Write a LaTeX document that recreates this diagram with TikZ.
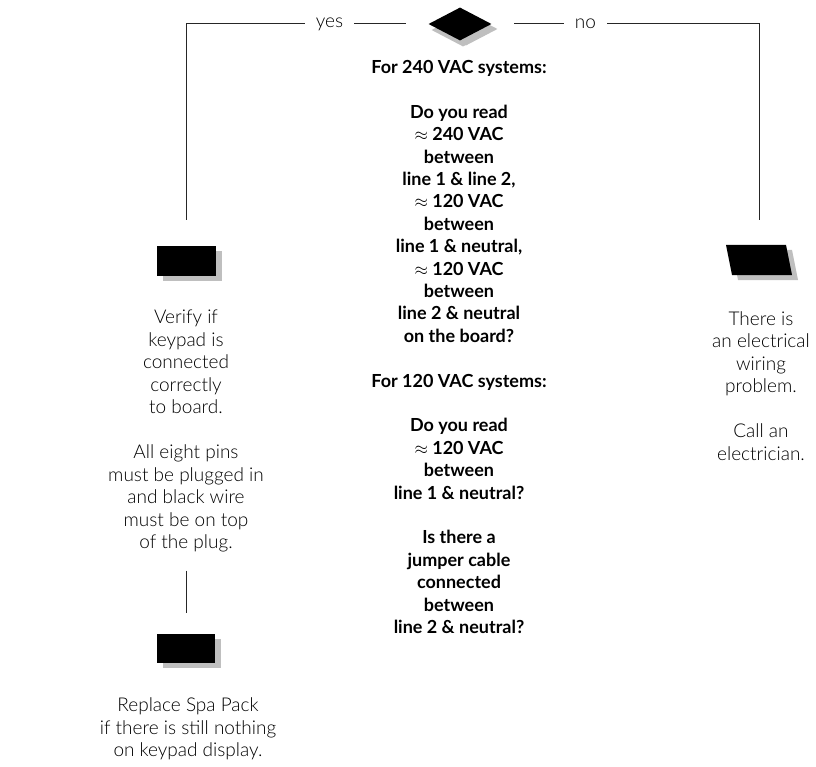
\documentclass[tikz,border=0pt]{standalone}
\usepackage{fontspec}
\setmainfont{Lato}
\newfontfamily\thinfont{Lato Light}
\usetikzlibrary{shapes.geometric,shadows}
\begin{document}
\begin{tikzpicture}[x=1pt,y=-1pt]
    \tikzset{blob/.style = {fill=black,inner sep=0pt,
        drop shadow={shadow xshift=6pt,shadow yshift=-5pt,fill=black!25,opacity=1}}}
    \tikzset{note/.style = {align=center,font=\thinfont\fontsize{19}{22.5}\selectfont}}
    \tikzset{quest/.style = {align=center,font=\bfseries\fontsize{18}{22.4}\selectfont}}
    \tikzset{tag/.style = {font=\thinfont\fontsize{19}{22.5}\selectfont,inner xsep=11pt}}
    \tikzset{link/.style = {line width=1pt,black!85}}
    \useasboundingbox (0,0) rectangle (816,767);
    \node[blob,diamond,minimum width=63pt,minimum height=33pt,
      drop shadow={shadow xshift=3pt,shadow yshift=-6pt,fill=black!25,opacity=1}] (dec) at (460,24) {};
    \node[tag] (yes) at (329.5,24) {yes}; \node[tag] (no) at (585.5,24) {no};
    \node[blob,minimum width=59pt,minimum height=30pt] (lbox) at (186.5,261) {};
    \node[blob,xslant=-0.2,transform shape,
      minimum width=60pt,minimum height=30pt] (rpar) at (759,260) {};
    \node[blob,minimum width=58pt,minimum height=29pt] (bbox) at (186,648.5) {};
    \node[quest] (ask) at (459,347) {For 240 VAC systems:\\[22.4pt]
      Do you read\\ $\approx$ 240 VAC\\ between\\ line 1 \& line 2,\\
      $\approx$ 120 VAC\\ between\\ line 1 \& neutral,\\ $\approx$ 120 VAC\\
      between\\ line 2 \& neutral\\ on the board?\\[22.4pt]
      For 120 VAC systems:\\[22.4pt]
      Do you read\\ $\approx$ 120 VAC\\ between\\ line 1 \& neutral?\\[22.4pt]
      Is there a\\ jumper cable\\ connected\\ between\\ line 2 \& neutral?};
    \node[note] (ltext) at (186,431) {Verify if\\ keypad is\\ connected\\
      correctly\\ to board.\\[22.5pt] All eight pins\\ must be plugged in\\
      and black wire\\ must be on top\\ of the plug.};
    \node[note] (rtext) at (761,386) {There is\\ an electrical\\ wiring\\
      problem.\\[22.5pt] Call an\\ electrician.};
    \node[note] (btext) at (188,729) {Replace Spa Pack\\
      if there is still nothing\\ on keypad display.};
    \draw[link,shorten >=22pt] (yes) -- (dec); \draw[link,shorten >=22pt] (no) -- (dec);
    \draw[link,shorten >=26pt] (yes) -| (lbox);
    \draw[link,shorten >=25pt] (no) -| (rpar);
    \draw[link,shorten <=15pt,shorten >=21pt] (ltext) -- (bbox);
  \end{tikzpicture}
\end{document}
